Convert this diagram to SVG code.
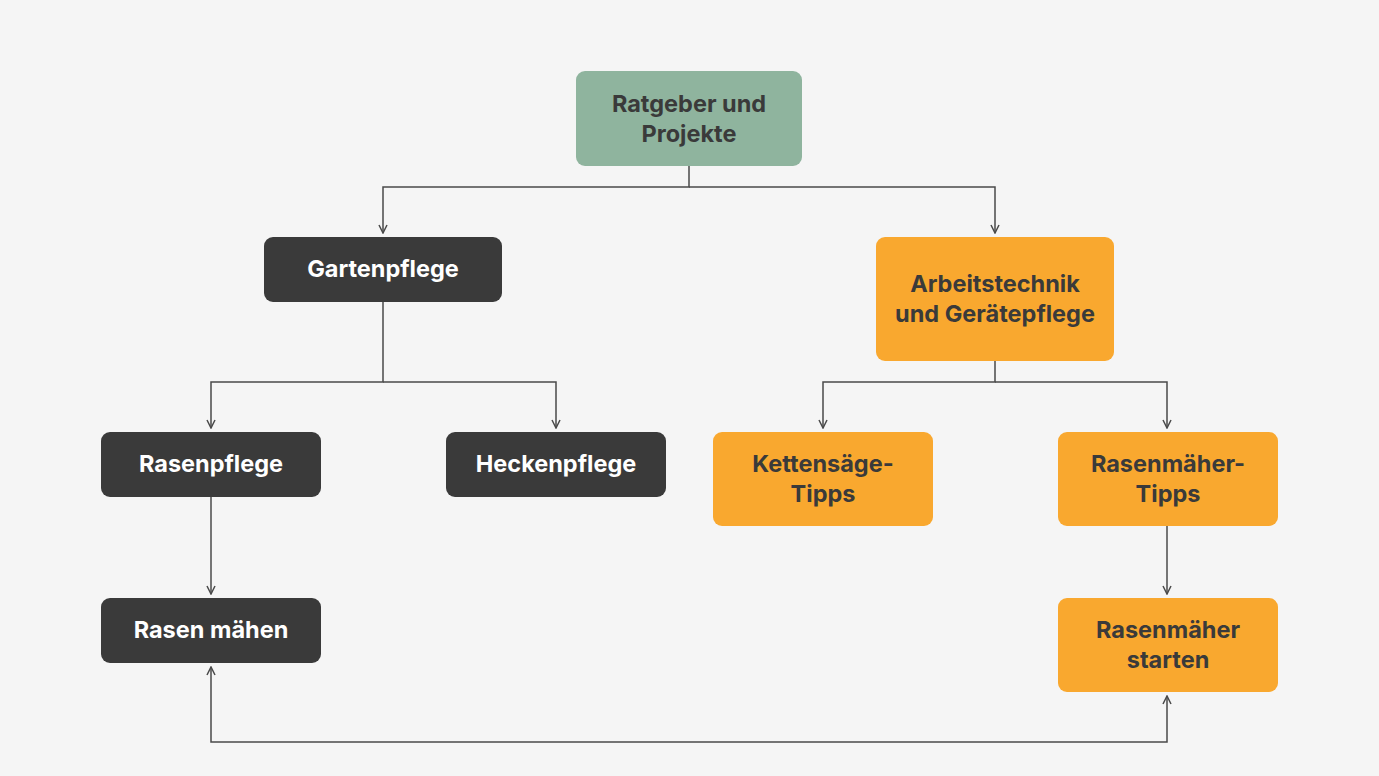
<svg xmlns="http://www.w3.org/2000/svg" width="1379" height="776" viewBox="0 0 1379 776">
<defs>
<marker id="arr" viewBox="0 0 10 10" refX="9" refY="5" markerWidth="10" markerHeight="10" markerUnits="userSpaceOnUse" orient="auto-start-reverse">
<path d="M1,1 L9,5 L1,9" fill="none" stroke="#4a4a4a" stroke-width="1.5"/>
</marker>
<style>
.bg{fill:#f5f5f5}
.green{fill:#8fb49e}
.dark{fill:#3a3a3a}
.orange{fill:#f9a82f}
text{font-family:Inter,"Noto Sans","Liberation Sans",sans-serif;font-weight:700;font-size:23.5px;text-anchor:middle}
.tl{fill:#3a3a3a}
.tw{fill:#ffffff}
.c{fill:none;stroke:#4a4a4a;stroke-width:1.5}
</style>
</defs>
<rect class="bg" x="0" y="0" width="1379" height="776"/>
<g id="connectors">
<path class="c" d="M689,166 V187 H383 V233" marker-end="url(#arr)"/>
<path class="c" d="M689,187 H995 V233" marker-end="url(#arr)"/>
<path class="c" d="M383,302 V382 H211 V428" marker-end="url(#arr)"/>
<path class="c" d="M383,382 H556 V428" marker-end="url(#arr)"/>
<path class="c" d="M995,361 V382 H823 V428" marker-end="url(#arr)"/>
<path class="c" d="M995,382 H1167 V428" marker-end="url(#arr)"/>
<path class="c" d="M211,497 V594" marker-end="url(#arr)"/>
<path class="c" d="M1167,526 V594" marker-end="url(#arr)"/>
<path class="c" d="M211,667 V742 H1167 V696" marker-start="url(#arr)" marker-end="url(#arr)"/>
</g>
<g id="root">
<rect class="green" x="576" y="71" width="226" height="95" rx="9"/>
<text class="tl" x="689" y="112">Ratgeber und</text>
<text class="tl" x="689" y="142">Projekte</text>
</g>
<g id="gartenpflege">
<rect class="dark" x="264" y="237" width="238" height="65" rx="9"/>
<text class="tw" x="383" y="277">Gartenpflege</text>
</g>
<g id="arbeitstechnik">
<rect class="orange" x="876" y="237" width="238" height="124" rx="9"/>
<text class="tl" x="995" y="292">Arbeitstechnik</text>
<text class="tl" x="995" y="322">und Gerätepflege</text>
</g>
<g id="rasenpflege">
<rect class="dark" x="101" y="432" width="220" height="65" rx="9"/>
<text class="tw" x="211" y="472">Rasenpflege</text>
</g>
<g id="heckenpflege">
<rect class="dark" x="446" y="432" width="220" height="65" rx="9"/>
<text class="tw" x="556" y="472">Heckenpflege</text>
</g>
<g id="kettensaege">
<rect class="orange" x="713" y="432" width="220" height="94" rx="9"/>
<text class="tl" x="823" y="472">Kettensäge-</text>
<text class="tl" x="823" y="502">Tipps</text>
</g>
<g id="rasenmaeher-tipps">
<rect class="orange" x="1058" y="432" width="220" height="94" rx="9"/>
<text class="tl" x="1168" y="472">Rasenmäher-</text>
<text class="tl" x="1168" y="502">Tipps</text>
</g>
<g id="rasen-maehen">
<rect class="dark" x="101" y="598" width="220" height="65" rx="9"/>
<text class="tw" x="211" y="638">Rasen mähen</text>
</g>
<g id="rasenmaeher-starten">
<rect class="orange" x="1058" y="598" width="220" height="94" rx="9"/>
<text class="tl" x="1168" y="638">Rasenmäher</text>
<text class="tl" x="1168" y="668">starten</text>
</g>
</svg>
